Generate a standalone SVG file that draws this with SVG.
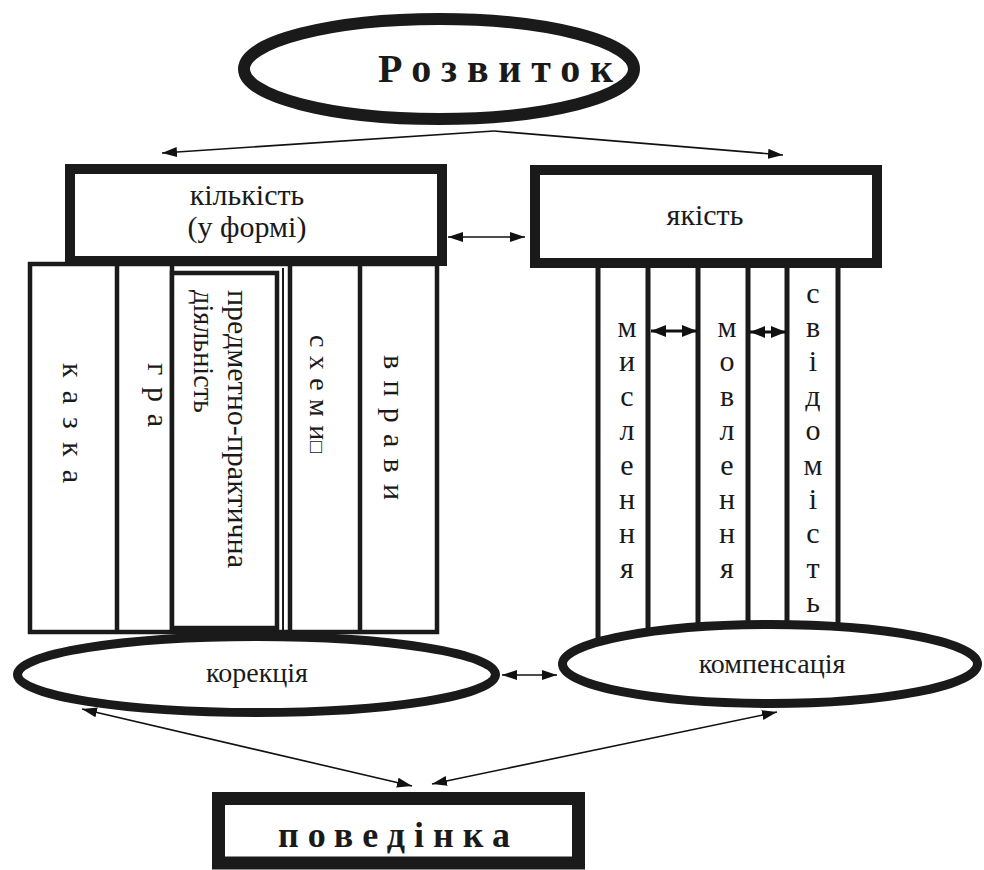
<svg xmlns="http://www.w3.org/2000/svg" width="984" height="870" viewBox="0 0 984 870">
<defs>
<marker id="ah" markerUnits="userSpaceOnUse" viewBox="0 0 15 10" markerWidth="15" markerHeight="10" refX="15" refY="5" orient="auto-start-reverse"><path d="M0,0 L15,5 L0,10 z" fill="#111"/></marker>
<marker id="ahb" markerUnits="userSpaceOnUse" viewBox="0 0 15 12" markerWidth="15" markerHeight="12" refX="15" refY="6" orient="auto-start-reverse"><path d="M0,0 L15,6 L0,12 z" fill="#111"/></marker>
</defs>
<style>
text{font-family:"Liberation Serif","Tinos","Times New Roman","DejaVu Serif",serif;fill:#1a1a1a}
.b{font-weight:bold}
.col{fill:#fff;stroke:#1a1a1a;stroke-width:4.5}
.cl{stroke:#1a1a1a;stroke-width:4.5}
.rl{stroke:#1a1a1a;stroke-width:5}
.box{fill:#fff;stroke:#1a1a1a;stroke-width:10}
.ell{fill:#fff;stroke:#1a1a1a;stroke-width:9}
.c{stroke:#111;stroke-width:1.6;fill:none}
.cb{stroke:#111;stroke-width:3;fill:none}
</style>
<rect width="984" height="870" fill="#fff"/>

<g id="left-columns">
  <rect class="col" x="30" y="264" width="407" height="368"/>
  <line class="cl" x1="117" y1="264" x2="117" y2="632"/>
  <line class="cl" x1="172" y1="264" x2="172" y2="632"/>
  <line class="cl" x1="290" y1="264" x2="290" y2="632"/>
  <line class="cl" x1="360" y1="264" x2="360" y2="632"/>
  <line stroke="#1a1a1a" stroke-width="2" x1="283" y1="268" x2="283" y2="632"/>
  <rect fill="#fff" stroke="#1a1a1a" stroke-width="4.5" x="172" y="273" width="105" height="355"/>
</g>
<g id="node-kazka"><text font-size="30" transform="translate(63,363) rotate(90)" textLength="120" lengthAdjust="spacing">к а з к а</text></g>
<g id="node-gra"><text font-size="30" transform="translate(148,363) rotate(90)" textLength="64" lengthAdjust="spacing">г р а</text></g>
<g id="node-predmetno">
  <text font-size="29" transform="translate(228,290) rotate(90)" textLength="278" lengthAdjust="spacingAndGlyphs">предметно-практична</text>
  <text font-size="29" transform="translate(194,290) rotate(90)" textLength="123" lengthAdjust="spacingAndGlyphs">діяльність</text>
</g>
<g id="node-skhemy"><text font-size="28" transform="translate(310,335) rotate(90)" textLength="118" lengthAdjust="spacing">с х е м и<tspan font-size="20">□</tspan></text></g>
<g id="node-vpravy"><text font-size="30" transform="translate(384,355) rotate(90)" textLength="145" lengthAdjust="spacing">в п р а в и</text></g>

<g id="right-columns">
  <line class="rl" x1="598" y1="263" x2="598" y2="645"/>
  <line class="rl" x1="648" y1="263" x2="648" y2="640"/>
  <line class="rl" x1="698" y1="263" x2="698" y2="640"/>
  <line class="rl" x1="748" y1="263" x2="748" y2="640"/>
  <line class="rl" x1="787" y1="263" x2="787" y2="640"/>
  <line class="rl" x1="838" y1="263" x2="838" y2="640"/>
</g>
<g id="node-myslennia"><text font-size="30" text-anchor="middle">
  <tspan x="627" y="337">м</tspan><tspan x="627" y="371.4">и</tspan><tspan x="627" y="405.8">с</tspan><tspan x="627" y="440.2">л</tspan><tspan x="627" y="474.6">е</tspan><tspan x="627" y="509">н</tspan><tspan x="627" y="543.4">н</tspan><tspan x="627" y="577.8">я</tspan></text></g>
<g id="node-movlennia"><text font-size="30" text-anchor="middle">
  <tspan x="727" y="337">м</tspan><tspan x="727" y="371.4">о</tspan><tspan x="727" y="405.8">в</tspan><tspan x="727" y="440.2">л</tspan><tspan x="727" y="474.6">е</tspan><tspan x="727" y="509">н</tspan><tspan x="727" y="543.4">н</tspan><tspan x="727" y="577.8">я</tspan></text></g>
<g id="node-svidomist"><text font-size="30" text-anchor="middle">
  <tspan x="813" y="302.6">с</tspan><tspan x="813" y="337">в</tspan><tspan x="813" y="371.4">і</tspan><tspan x="813" y="405.8">д</tspan><tspan x="813" y="440.2">о</tspan><tspan x="813" y="474.6">м</tspan><tspan x="813" y="509">і</tspan><tspan x="813" y="543.4">с</tspan><tspan x="813" y="577.8">т</tspan><tspan x="813" y="612.2">ь</tspan></text></g>

<g id="node-rozvytok">
  <ellipse fill="#fff" stroke="#1a1a1a" stroke-width="12" cx="439" cy="69" rx="195" ry="50"/>
  <text class="b" font-size="40" x="378" y="82" textLength="235" lengthAdjust="spacing">Розвиток</text>
</g>
<g id="node-kilkist">
  <rect class="box" x="70" y="169" width="372" height="92"/>
  <text font-size="30" text-anchor="middle"><tspan x="247" y="205">кількість</tspan><tspan x="247" y="237">(у формі)</tspan></text>
</g>
<g id="node-yakist">
  <rect class="box" x="535" y="170" width="342" height="93"/>
  <text font-size="30" text-anchor="middle" x="705" y="225">якість</text>
</g>
<g id="node-korektsiia">
  <ellipse class="ell" cx="256.5" cy="674.5" rx="239" ry="38"/>
  <text font-size="28" text-anchor="middle" x="257" y="682">корекція</text>
</g>
<g id="node-kompensatsiia">
  <ellipse class="ell" cx="770" cy="664" rx="207.5" ry="39.5"/>
  <text font-size="28" text-anchor="middle" x="772" y="673">компенсація</text>
</g>
<g id="node-povedinka">
  <rect fill="#fff" stroke="#1a1a1a" stroke-width="13" x="218.5" y="798.5" width="360" height="64.5"/>
  <text class="b" font-size="36" x="278" y="847" textLength="232" lengthAdjust="spacing">поведінка</text>
</g>

<g id="connectors">
  <line class="c" x1="494" y1="131" x2="162" y2="153" marker-end="url(#ah)"/>
  <line class="c" x1="494" y1="131" x2="783" y2="155" marker-end="url(#ah)"/>
  <line class="c" x1="448" y1="237" x2="525" y2="237" marker-start="url(#ah)" marker-end="url(#ah)"/>
  <line class="cb" x1="651" y1="331" x2="697" y2="331" marker-start="url(#ahb)" marker-end="url(#ahb)"/>
  <line class="cb" x1="750" y1="332" x2="786" y2="332" marker-start="url(#ahb)" marker-end="url(#ahb)"/>
  <line class="c" x1="502" y1="675" x2="557" y2="675" marker-start="url(#ah)" marker-end="url(#ah)"/>
  <line class="c" x1="82" y1="709" x2="412" y2="786" marker-start="url(#ah)" marker-end="url(#ah)"/>
  <line class="c" x1="777" y1="712" x2="432" y2="784" marker-start="url(#ah)" marker-end="url(#ah)"/>
</g>
</svg>
